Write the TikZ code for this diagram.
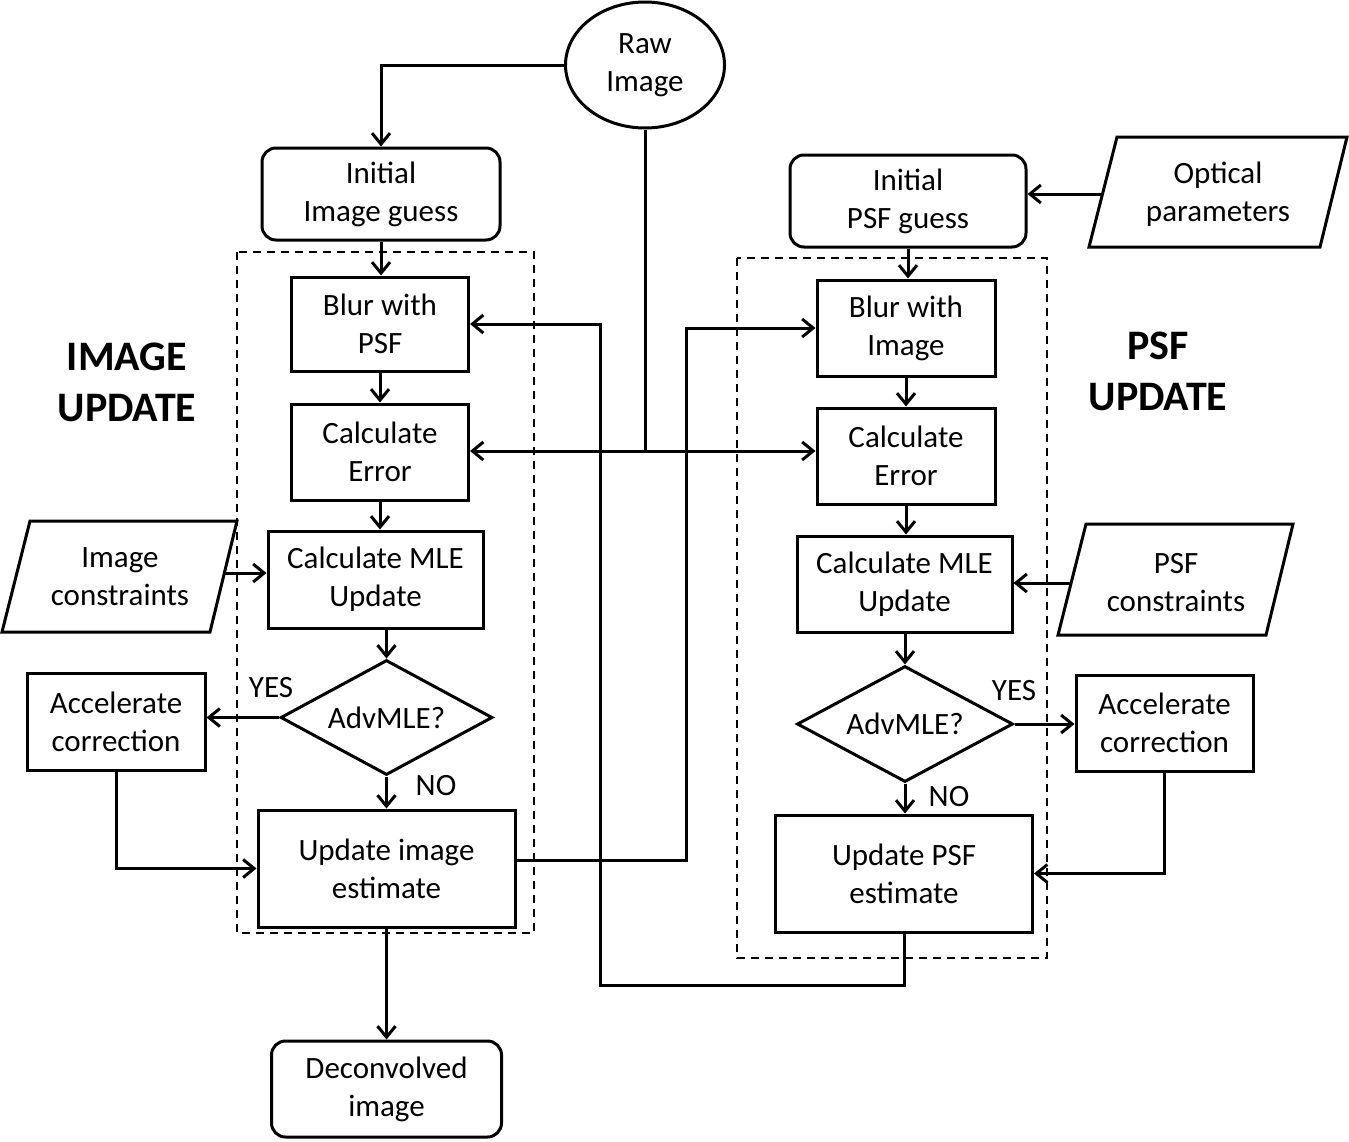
\documentclass[tikz,border=0pt]{standalone}
\usepackage{fontspec}
\setmainfont{Carlito}
\usetikzlibrary{arrows.meta,shapes.geometric}
\begin{document}
\begin{tikzpicture}[x=0.5pt,y=-0.5pt,
  txt/.style={font=\fontsize{15.5}{19}\selectfont, align=center, inner sep=0pt},
  box/.style={txt, draw, line width=1.5pt},
  rbox/.style={box, rounded corners=7pt},
  decision/.style={txt, draw, line width=1.5pt, shape=diamond, aspect=1.85, inner sep=0pt},
  oval/.style={txt, draw, line width=1.5pt, shape=ellipse},
  para/.style={draw, line width=1.5pt, line join=miter},
  conn/.style={line width=1.5pt},
  arr/.style={conn, -{Straight Barb[length=5.5pt,width=9pt,line width=1.5pt]}},
  frame/.style={draw, line width=0.8pt, dash pattern=on 4pt off 3pt},
  heading/.style={font=\fontsize{21}{25.5}\selectfont\bfseries, align=center, inner sep=0pt},
  lbl/.style={font=\fontsize{15.5}{19}\selectfont, inner sep=0pt}]
\useasboundingbox (0,0) rectangle (1349,1141);

% dashed frames
\draw[frame] (237,252) rectangle (534,933);
\draw[frame] (737,258) rectangle (1047,958);

% headings
\node[heading] (hImg) at (127,382) {IMAGE\\UPDATE};
\node[heading] (hPsf) at (1158,371) {PSF\\UPDATE};

% raw image
\node[oval, minimum width=79.5pt, minimum height=63pt] (raw) at (645,65) {Raw\\Image};

% left column
\node[rbox, minimum width=119pt, minimum height=46pt] (ig) at (381,194) {Initial\\Image guess};
\node[box, minimum width=88.5pt, minimum height=47pt] (blurL) at (380,324) {Blur with\\PSF};
\node[box, minimum width=88.5pt, minimum height=48pt] (errL) at (380,452) {Calculate\\Error};
\node[box, minimum width=107.5pt, minimum height=48.5pt] (mleL) at (375.5,579.5) {Calculate MLE\\Update};
\node[decision, minimum width=106pt, minimum height=57.5pt] (diaL) at (386.5,717.5) {AdvMLE?};
\node[box, minimum width=128.5pt, minimum height=58.5pt] (updL) at (386.5,868.5) {Update image\\estimate};
\node[box, minimum width=89pt, minimum height=48.5pt] (accL) at (116,721.5) {Accelerate\\correction};
\node[rbox, minimum width=115pt, minimum height=48pt] (dec) at (386.5,1089) {Deconvolved\\image};
\draw[para] (30,521) -- (237,521) -- (210,632) -- (2,632) -- cycle;
\node[txt] (icon) at (120,577) {Image\\constraints};
\coordinate (icR) at (224,573);

% right column
\node[rbox, minimum width=118pt, minimum height=46pt] (pg) at (908,201) {Initial\\PSF guess};
\node[box, minimum width=89pt, minimum height=48pt] (blurR) at (906,328) {Blur with\\Image};
\node[box, minimum width=89pt, minimum height=48pt] (errR) at (906,456) {Calculate\\Error};
\node[box, minimum width=107.5pt, minimum height=48pt] (mleR) at (904.5,584) {Calculate MLE\\Update};
\node[decision, minimum width=108pt, minimum height=58pt] (diaR) at (905,724) {AdvMLE?};
\node[box, minimum width=128.5pt, minimum height=58.5pt] (updR) at (904,873.5) {Update PSF\\estimate};
\node[box, minimum width=88.5pt, minimum height=48pt] (accR) at (1164.5,723) {Accelerate\\correction};
\draw[para] (1117,137) -- (1347,137) -- (1320,247) -- (1089,247) -- cycle;
\node[txt] (opt) at (1218,194) {Optical\\parameters};
\coordinate (optL) at (1102,194);
\draw[para] (1086,524) -- (1293,524) -- (1266,635) -- (1058,635) -- cycle;
\node[txt] (pcon) at (1176,583) {PSF\\constraints};
\coordinate (pconL) at (1071,583);

% labels
\node[lbl] (yesL) at (271,688) {YES};
\node[lbl] (noL) at (436,786) {NO};
\node[lbl] (yesR) at (1014,691) {YES};
\node[lbl] (noR) at (949,797) {NO};

% junction coordinates
\coordinate (j) at (645,451);
\coordinate (fbA) at (600,985);
\coordinate (fbB) at (600,324);
\coordinate (ua) at (686,860);

% connectors: raw image
\draw[arr] (raw.west) -| (ig.north);
\draw[conn] (raw.south) -- (j);
\draw[arr] (j) -- (j -| errL.east);
\draw[arr] (j) -- (j -| errR.west);

% left flow
\draw[arr] (ig.south) -- (ig.south |- blurL.north);
\draw[arr] (blurL.south) -- (errL.north);
\draw[arr] (errL.south) -- (errL.south |- mleL.north);
\draw[arr] (diaL.north |- mleL.south) -- (diaL.north);
\draw[arr] (diaL.south) -- (updL.north);
\draw[arr] (updL.south) -- (dec.north);
\draw[arr] (diaL.west) -- (diaL.west -| accL.east);
\draw[arr] (accL.south) |- (updL.west);
\draw[arr] (icR) -- (icR -| mleL.west);

% right flow
\draw[arr] (optL) -- (optL -| pg.east);
\draw[arr] (pg.south) -- (pg.south |- blurR.north);
\draw[arr] (blurR.south) -- (errR.north);
\draw[arr] (errR.south) -- (errR.south |- mleR.north);
\draw[arr] (diaR.north |- mleR.south) -- (diaR.north);
\draw[arr] (diaR.south) -- (diaR.south |- updR.north);
\draw[arr] (diaR.east) -- (diaR.east -| accR.west);
\draw[arr] (accR.south) |- (updR.east);
\draw[arr] (pconL) -- (pconL -| mleR.east);

% cross feedback
\draw[arr] (updR.south) |- (fbA) -- (fbB) -- (blurL.east);
\draw[arr] (updL.east |- ua) -- (ua) |- (blurR.west);
\end{tikzpicture}
\end{document}
